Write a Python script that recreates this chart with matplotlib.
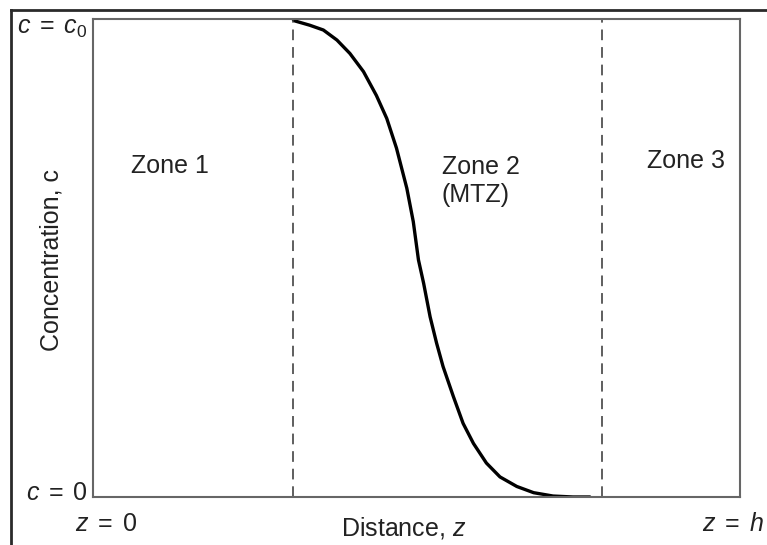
import matplotlib
matplotlib.use('Agg')
import matplotlib.pyplot as plt
from matplotlib.lines import Line2D

plt.rcParams['font.family'] = ['Liberation Sans', 'DejaVu Sans']
plt.rcParams['mathtext.fontset'] = 'custom'
plt.rcParams['mathtext.rm'] = 'Liberation Sans'
plt.rcParams['mathtext.it'] = 'Liberation Sans:italic'

# breakthrough profile, z / h and c / c0
z_pos = [0.309, 0.312, 0.335, 0.356, 0.377, 0.397, 0.418, 0.438, 0.454,
         0.469, 0.485, 0.495, 0.503, 0.511, 0.521, 0.531, 0.541, 0.557,
         0.572, 0.588, 0.608, 0.629, 0.655, 0.681, 0.711, 0.742, 0.768]
conc = [1.000, 0.996, 0.987, 0.977, 0.956, 0.928, 0.890, 0.840, 0.792,
        0.730, 0.646, 0.576, 0.496, 0.447, 0.377, 0.322, 0.273, 0.210,
        0.154, 0.112, 0.071, 0.042, 0.022, 0.009, 0.002, 0.000, 0.000]
zone_edges = [0.309, 0.787]
zone_labels = ['Zone 1', 'Zone 2\n(MTZ)', 'Zone 3']
zone_label_x = [0.058, 0.539, 0.856]
zone_label_y = [0.692, 0.661, 0.703]

txt = '#222222'
fig = plt.figure(figsize=(7.67, 5.45), dpi=100)
ax = fig.add_axes([0.1213, 0.0881, 0.8435, 0.877])

ax.plot(z_pos, conc, color='black', lw=2.4, solid_capstyle='round',
        solid_joinstyle='round')

for e in zone_edges:
    ax.axvline(e, color='#333333', lw=1.1, linestyle=(0, (7, 4.5)))

for lab, x, y in zip(zone_labels, zone_label_x, zone_label_y):
    ax.text(x, y, lab, fontsize=18, color=txt, ha='left', va='center',
            transform=ax.transAxes, linespacing=1.2)

ax.set_xlim(0, 1)
ax.set_ylim(0, 1)
ax.set_xticks([])
ax.set_yticks([])
for s in ax.spines.values():
    s.set_color('#666666')
    s.set_linewidth(1.5)

ax.text(-0.008, 0.981, r'$c\;=\;c_0$', fontsize=18, color=txt,
        ha='right', va='center', transform=ax.transAxes)
ax.text(-0.008, 0.008, r'$c\;=\;\mathrm{0}$', fontsize=18, color=txt,
        ha='right', va='center', transform=ax.transAxes)

fig.text(106 / 767, 1 - 524 / 545, r'$z\;=\;\mathrm{0}$', fontsize=18, color=txt,
         ha='center', va='center')
fig.text(764 / 767, 1 - 524 / 545, r'$z\;=\;h$', fontsize=18, color=txt,
         ha='right', va='center')
fig.text(404 / 767, 1 - 528 / 545, r'Distance, $z$', fontsize=18, color=txt,
         ha='center', va='center')
fig.text(52 / 767, 1 - 260 / 545, 'Concentration, c', fontsize=18, color=txt,
         ha='center', va='center', rotation=90)

# outer frame of the scanned page
fig.add_artist(Line2D([11 / 767, 11 / 767], [0, 1 - 10 / 545],
                      transform=fig.transFigure, color='#2a2a2a', lw=2))
fig.add_artist(Line2D([11 / 767, 1], [1 - 10 / 545, 1 - 10 / 545],
                      transform=fig.transFigure, color='#2a2a2a', lw=2))

plt.savefig('out.png', dpi=100)
